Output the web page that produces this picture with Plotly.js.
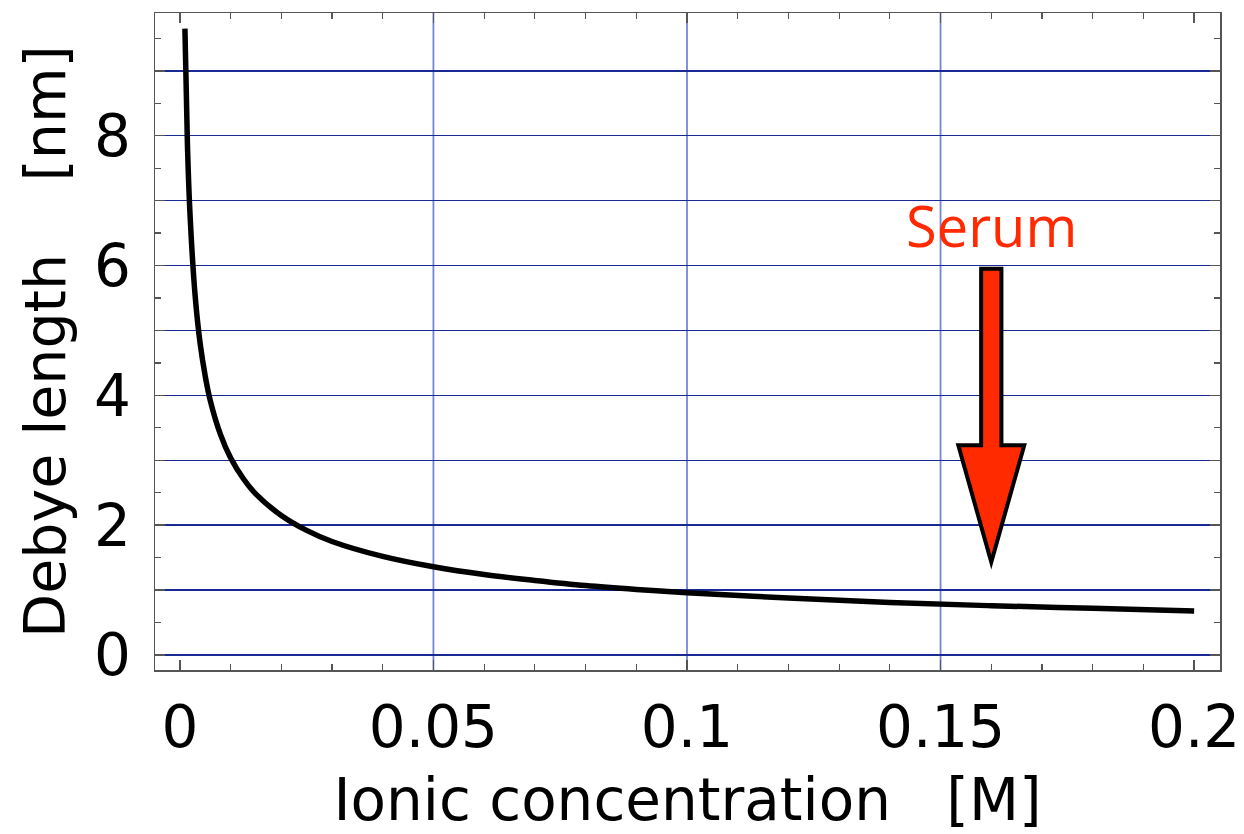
<!DOCTYPE html>
<html>
<head>
<meta charset="utf-8">
<script src="https://cdn.plot.ly/plotly-3.0.1.min.js"></script>
<style>html,body{margin:0;padding:0;background:#fff;}#chart{width:1244px;height:834px;}</style>
</head>
<body>
<div id="chart"></div>
<script>
// Data
const concentration = [0.001, 0.0015, 0.002, 0.003, 0.004, 0.005, 0.006, 0.008, 0.01, 0.0125, 0.015, 0.02, 0.025, 0.03, 0.04, 0.05, 0.06, 0.07, 0.08, 0.09, 0.1, 0.12, 0.14, 0.16, 0.18, 0.2];
const debyeLength = [9.65, 7.85, 6.8, 5.55, 4.8, 4.3, 3.92, 3.4, 3.04, 2.72, 2.48, 2.15, 1.92, 1.75, 1.52, 1.36, 1.24, 1.15, 1.07, 1.01, 0.96, 0.88, 0.81, 0.76, 0.72, 0.68];

const yTickVals = [0, 1, 2, 3, 4, 5, 6, 7, 8, 9];
const yTickText = ['0', '', '2', '', '4', '', '6', '', '8', ''];
const xGridVals = [0.05, 0.1, 0.15];

const serumLabel = 'Serum';
const serumX = 0.16;
const serumLabelY = 6.63;
const arrowTop = 5.95;
const arrowHeadBase = 3.23;
const arrowTip = 1.43;
const shaftHalf = 0.002;
const headHalf = 0.0065;

const red = '#ff2a00';
const frame = '#555555';

const trace = {
  x: concentration, y: debyeLength, type: 'scatter', mode: 'lines',
  line: {color: '#000', width: 5.5, shape: 'spline', smoothing: 1},
  hoverinfo: 'skip'
};

const shapes = xGridVals.map(v => ({
  type: 'line', xref: 'x', yref: 'paper', x0: v, x1: v, y0: 0, y1: 1,
  line: {color: '#7585d6', width: 1.8}, layer: 'below'
}));

const ax = serumX;
const arrowPath = `M ${ax-shaftHalf},${arrowTop} L ${ax+shaftHalf},${arrowTop} L ${ax+shaftHalf},${arrowHeadBase} ` +
  `L ${ax+headHalf},${arrowHeadBase} L ${ax},${arrowTip} L ${ax-headHalf},${arrowHeadBase} L ${ax-shaftHalf},${arrowHeadBase} Z`;
shapes.push({type: 'path', xref: 'x', yref: 'y', path: arrowPath,
  fillcolor: red, line: {color: '#000', width: 4}, layer: 'above'});

const layout = {
  width: 1244, height: 834,
  margin: {l: 155, r: 24, t: 13, b: 164},
  paper_bgcolor: '#fff', plot_bgcolor: '#fff',
  showlegend: false,
  font: {family: 'DejaVu Sans', color: '#000'},
  xaxis: {
    range: [-0.0049, 0.2051],
    tickmode: 'linear', tick0: 0, dtick: 0.05,
    ticks: 'inside', ticklen: 10, tickwidth: 1.5, tickcolor: frame,
    minor: {tickmode: 'linear', tick0: 0, dtick: 0.01, ticks: 'inside', ticklen: 6, tickwidth: 1.2, tickcolor: frame, showgrid: false},
    showgrid: false, zeroline: false,
    showline: true, linecolor: frame, linewidth: 1.5, mirror: 'allticks',
    tickfont: {family: 'DejaVu Sans', size: 58},
    ticklabelstandoff: 6,
    title: {text: 'Ionic concentration&nbsp;&nbsp;&nbsp;[M]', font: {family: 'DejaVu Sans', size: 58}, standoff: 20}
  },
  yaxis: {
    range: [-0.23, 9.89],
    tickmode: 'array', tickvals: yTickVals, ticktext: yTickText,
    ticks: 'inside', ticklen: 10, tickwidth: 1.5, tickcolor: frame,
    minor: {tickmode: 'linear', tick0: 0, dtick: 0.5, ticks: 'inside', ticklen: 6, tickwidth: 1.2, tickcolor: frame, showgrid: false},
    showgrid: true, gridcolor: '#1a2a95', gridwidth: 1.5,
    zeroline: false,
    showline: true, linecolor: frame, linewidth: 1.5, mirror: 'allticks',
    tickfont: {family: 'DejaVu Sans', size: 58},
    ticklabelstandoff: 11,
    title: {text: 'Debye length&nbsp;&nbsp;&nbsp;&nbsp;[nm]', font: {family: 'DejaVu Sans', size: 57}, standoff: 10}
  },
  shapes: shapes,
  annotations: [{
    x: serumX, y: serumLabelY, xref: 'x', yref: 'y', text: serumLabel, showarrow: false,
    font: {family: 'Open Sans', size: 56, color: red}, xanchor: 'center', yanchor: 'middle'
  }]
};

Plotly.newPlot('chart', [trace], layout, {staticPlot: true, displayModeBar: false});
</script>
</body>
</html>
